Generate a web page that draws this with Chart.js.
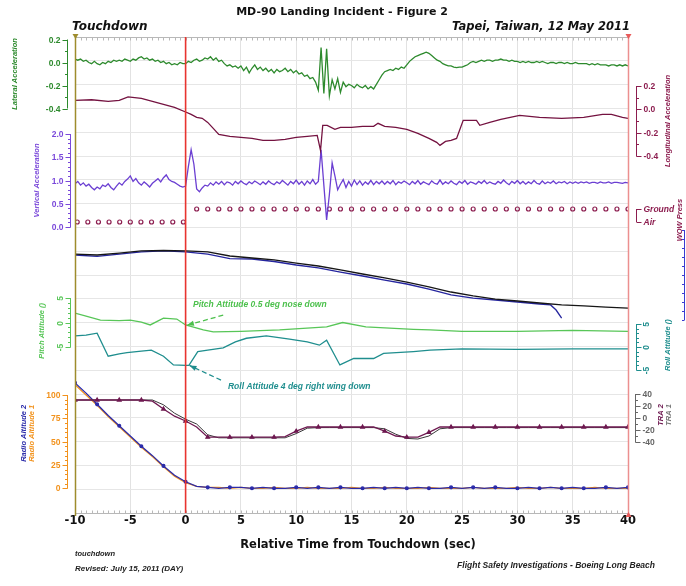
<!DOCTYPE html>
<html>
<head>
<meta charset="utf-8">
<title>MD-90 Landing Incident - Figure 2</title>
<script src="https://cdn.jsdelivr.net/npm/chart.js@4.4.0/dist/chart.umd.min.js"></script>
<style>
  html, body { margin: 0; padding: 0; background: #fff; }
  canvas { display: block; }
</style>
</head>
<body>
<canvas id="chart" width="686" height="586"></canvas>
<script>
// ---------------- recorded parameters (time in seconds from touchdown) ----------------
const touchdownTime = 0;
const xTickValues = [-10, -5, 0, 5, 10, 15, 20, 25, 30, 35, 40];

// lateral and vertical acceleration (g), sampled every 0.25 s from -10 s
const accStep = 0.25;
const lateralAccel = [
  0.03, 0.02, 0.03, 0.01,   0.02, 0.00, -0.01, 0.01,   -0.01, -0.02, 0.00, -0.01,
  0.01, 0.00, 0.02, 0.01,   0.02, 0.01, 0.03, 0.02,    0.01, 0.03, 0.02, 0.04,
  0.05, 0.03, 0.04, 0.02,   0.03, 0.01, 0.02, 0.00,    0.01, -0.01, 0.00, -0.02,
  -0.01, -0.02, 0.00, -0.01,
  -0.01, 0.01, 0.00, 0.02,  0.03, 0.01, 0.02, 0.04,    0.03, 0.05, 0.02, 0.04,
  0.01, 0.02, -0.01, -0.03, -0.02, -0.04, -0.03, -0.05, -0.03, -0.07, -0.04, -0.09,
  -0.05, -0.02, -0.06, -0.04, -0.07, -0.05, -0.08, -0.06, -0.09, -0.06, -0.08, -0.07,
  -0.05, -0.08, -0.06, -0.09, -0.07, -0.10, -0.09, -0.12, -0.11, -0.14, -0.13, -0.17,
  -0.24, 0.13, -0.27, 0.12,  -0.29, -0.15, -0.23, -0.14, -0.26, -0.17, -0.21, -0.19,
  -0.20, -0.22, -0.19, -0.21, -0.22, -0.20, -0.23, -0.21, -0.23, -0.19, -0.15, -0.11,
  -0.08, -0.07, -0.06, -0.07, -0.05, -0.06, -0.04, -0.05,
  -0.02, 0.01, 0.03, 0.05,  0.06, 0.07, 0.08, 0.09,    0.08, 0.06, 0.04, 0.02,
  0.01, -0.01, -0.02, -0.03, -0.03, -0.04, -0.045, -0.04, -0.04, -0.03, -0.02, 0.00,
  0.01, 0.00, 0.01, 0.02,   0.01, 0.02, 0.02, 0.01,    0.02, 0.02, 0.03, 0.02,
  0.02, 0.01, 0.02, 0.01,
  0.01, 0.00, 0.01, 0.00,   0.01, 0.00, 0.00, 0.01,    0.00, 0.01, 0.00, -0.01,
  0.00, 0.00, -0.01, 0.00,  0.00, -0.01, 0.00, -0.01,  -0.01, 0.00, -0.01, -0.01,
  -0.01, -0.01, -0.02, -0.01, -0.02, -0.01, -0.02, -0.02, -0.02, -0.03, -0.02, -0.02,
  -0.03, -0.02, -0.03, -0.02,
  -0.03
];
const verticalAccel = [
  0.93, 0.98, 0.90, 0.95,   0.88, 0.92, 0.85, 0.80,   0.86, 0.82, 0.90, 0.87,
  0.93, 0.85, 0.80, 0.88,   0.95, 0.90, 0.98, 1.03,   1.10, 0.98, 1.04, 0.95,
  0.90, 0.97, 0.92, 0.86,   0.94, 0.99, 1.04, 0.97,   1.06, 1.12, 1.02, 0.98,
  0.96, 0.92, 0.88, 0.86,
  0.88, 1.30, 1.66, 1.35,   0.82, 0.76, 0.84, 0.90,   0.88, 0.95, 0.90, 0.97,
  0.92, 0.98, 0.91, 0.97,   0.95, 0.90, 0.98, 0.93,   0.99, 0.94, 0.91, 0.97,
  0.93, 0.99, 0.95, 0.91,   0.97, 0.92, 0.99, 0.94,   0.91, 0.97, 0.93, 1.00,
  0.95, 0.90, 0.98, 0.93,   1.01, 0.92, 0.98, 0.90,   0.99, 0.93, 1.02, 0.92,
  0.98, 1.66, 0.90, 0.15,   0.70, 1.38, 1.10, 0.80,   0.92, 1.02, 0.85, 0.98,
  0.88, 1.01, 0.91, 0.99,   0.90, 0.97, 0.92, 1.00,   0.91, 0.98, 0.93, 0.99,
  0.92, 0.98, 0.93, 1.00,   0.91, 0.97, 0.94, 0.99,
  0.95, 0.91, 0.98, 0.93,   1.00, 0.92, 0.97, 0.94,   0.91, 0.99, 0.94, 0.92,
  1.01, 0.92, 0.97, 0.93,   0.99, 0.94, 0.91, 0.98,   0.94, 1.00, 0.92, 0.97,
  0.95, 0.92, 0.98, 0.94,   1.00, 0.93, 0.97, 0.94,   0.92, 0.98, 0.94, 1.01,
  0.95, 0.91, 0.98, 0.94,
  1.00, 0.93, 0.98, 0.92,   0.97, 0.93, 1.00, 0.94,   0.92, 0.99, 0.93, 0.97,
  0.94, 0.99, 0.93, 0.97,   0.95, 0.98, 0.93, 0.97,   0.94, 0.97, 0.94, 0.97,
  0.95, 0.97, 0.94, 0.96,   0.96, 0.94, 0.97, 0.95,   0.95, 0.97, 0.94, 0.96,
  0.96, 0.95, 0.94, 0.96,
  0.95
];
const accTime = lateralAccel.map((_, i) => -10 + i * accStep);

// longitudinal acceleration (g)
const longTime = [-10, -8.5, -7, -6, -5.2, -4, -3, -2, -1, 0,
  0.5, 1, 1.5, 2, 2.5, 3, 4, 5, 6, 7,
  8, 9, 10, 11, 11.9, 12.2, 12.4, 12.8, 13.5, 14,
  15, 16, 17, 17.4, 18, 19, 20, 21, 22, 22.7,
  23, 23.5, 24, 24.5, 25.1, 26.3, 26.6, 27.5, 28.5, 30.2,
  32, 34, 36, 37.7, 38.5, 39.5, 40];
const longAccel = [0.077, 0.082, 0.069, 0.077, 0.106, 0.094, 0.069, 0.043, 0.017, -0.023,
  -0.043, -0.069, -0.077, -0.112, -0.163, -0.215, -0.232, -0.240, -0.249, -0.266,
  -0.266, -0.258, -0.240, -0.232, -0.223, -0.352, -0.137, -0.137, -0.172, -0.155,
  -0.155, -0.146, -0.146, -0.120, -0.146, -0.155, -0.172, -0.206, -0.249, -0.283,
  -0.309, -0.275, -0.266, -0.249, -0.094, -0.094, -0.137, -0.112, -0.086, -0.052,
  -0.069, -0.077, -0.069, -0.043, -0.043, -0.069, -0.077];

// weight-on-wheels discrete (0 = Air, 1 = Ground)
const wowTime = [-9.8, -8.84, -7.88, -6.92, -5.96, -5.0, -4.04, -3.08, -2.12, -1.16, -0.2,
  1, 2, 3, 4, 5, 6, 7, 8, 9, 10, 11, 12, 13, 14, 15, 16, 17, 18, 19, 20,
  21, 22, 23, 24, 25, 26, 27, 28, 29, 30, 31, 32, 33, 34, 35, 36, 37, 38, 39, 40];
const wowState = [0, 0, 0, 0, 0, 0, 0, 0, 0, 0, 0,
  1, 1, 1, 1, 1, 1, 1, 1, 1, 1, 1, 1, 1, 1, 1, 1, 1, 1, 1, 1,
  1, 1, 1, 1, 1, 1, 1, 1, 1, 1, 1, 1, 1, 1, 1, 1, 1, 1, 1, 1];
const wowLabels = ['Ground', 'Air'];

// heading traces (deg)
const headingTime1 = [-10, -8, -6, -4, -2, 0, 2, 4, 6, 8, 10, 12, 14, 16, 18, 20, 22, 24, 26, 28, 30, 32, 34, 36, 38, 40];
const heading1 = [57.33, 57.22, 57.44, 57.67, 57.72, 57.67, 57.56, 57.11, 56.89, 56.67, 56.33, 56.0, 55.56,
  55.11, 54.67, 54.22, 53.67, 53.11, 52.67, 52.33, 52.11, 51.89, 51.67, 51.56, 51.44, 51.33];
const headingTime2 = [-10, -8, -6, -4, -2, 0, 2, 4, 6, 8, 10, 12, 14, 16, 18, 20, 22, 24, 26, 28, 30, 32, 33, 33.5, 34];
const heading2 = [57.22, 57.06, 57.33, 57.56, 57.67, 57.56, 57.33, 56.83, 56.78, 56.5, 56.11, 55.78, 55.33,
  54.89, 54.44, 54.0, 53.44, 52.78, 52.44, 52.22, 52.0, 51.78, 51.67, 51.11, 50.22];

// pitch and roll attitude (deg)
const pitchTime = [-10, -9, -7.7, -6, -5, -4, -3.2, -2, -0.8, 0, 1.6, 2.5, 5, 8.5, 12.75, 14.2, 16.3, 20.6, 22.1, 25, 30, 35, 40];
const pitchAttitude = [1.9, 1.3, 0.5, 0.4, 0.5, 0.1, -0.5, 0.9, 0.7, -0.5, -1.5, -1.9, -1.8, -1.5, -0.9, 0.0, -0.9, -1.4, -1.5, -1.8, -1.8, -1.6, -1.8];
const rollTime = [-10, -9, -8, -7, -6, -5.3, -4, -3.1, -2, -1.1, 0, 0.3, 1.1, 2, 3.4, 4.5, 5.5, 7.3, 9.4, 11,
  12.1, 12.75, 13.95, 15.2, 17, 17.9, 20.6, 22.1, 25, 30, 35, 40];
const rollAttitude = [2.4, 2.6, 3.0, -2.0, -1.5, -1.2, -0.9, -0.7, -2.0, -3.9, -4.0, -4.0, -1.0, -0.7, -0.2, 1.1, 1.9, 2.4, 1.7, 1.1,
  0.4, 1.5, -3.9, -2.5, -2.5, -1.4, -1.0, -0.7, -0.4, -0.5, -0.4, -0.4];

// throttle resolver angle (deg) and radio altitude (ft), one sample per second
const sampleTime = [-10, -9, -8, -7, -6, -5, -4, -3, -2, -1, 0, 1, 2, 3, 4, 5, 6, 7, 8, 9, 10,
  11, 12, 13, 14, 15, 16, 17, 18, 19, 20, 21, 22, 23, 24, 25, 26, 27, 28, 29, 30,
  31, 32, 33, 34, 35, 36, 37, 38, 39, 40];
const tra2 = [30, 30, 30, 30, 30, 30, 30, 28, 15, 3, -5, -15, -32, -32, -32, -32, -32, -32, -32, -31, -22,
  -15, -15, -15, -15, -15, -15, -15, -22, -30, -32, -32, -24, -15, -15, -15, -15, -15, -15, -15, -15,
  -15, -15, -15, -15, -15, -15, -15, -15, -15, -15];
const tra1 = [30, 30, 30, 30, 30, 30, 30, 30, 22, 8, -2, -10, -28, -33, -33, -33, -33, -33, -33, -33, -26,
  -17, -16, -16, -16, -16, -16, -16, -18, -27, -34, -35, -30, -18, -16, -16, -16, -16, -16, -16, -16,
  -16, -16, -16, -16, -16, -16, -16, -16, -16, -16];
const radioAlt1 = [111, 100, 89, 77, 66, 55, 44, 34, 23, 13, 6, 2, 1, 1, 0, 1, 0, 0, 1, 0, 0,
  1, 0, 0, 0, 1, 0, 0, 1, 0, 0, 0, 1, 0, 0, 0, 1, 0, 0, 0, 1,
  0, 0, 1, 0, 0, 0, 1, 0, 0, 0];
const radioAlt2 = [113, 102, 90, 78, 67, 56, 45, 35, 24, 14, 7, 2, 1, 0, 1, 1, 0, 1, 0, 0, 1,
  0, 1, 0, 1, 0, 0, 1, 0, 1, 0, 1, 0, 0, 1, 0, 1, 0, 1, 0, 0,
  1, 0, 1, 0, 1, 0, 0, 1, 0, 1];

// axis tick values and their labels
const latTicks = [0.2, 0, -0.2, -0.4],        latTickLabels = ['0.2', '0.0', '-0.2', '-0.4'];
const longTicks = [0.2, 0, -0.2, -0.4],       longTickLabels = ['0.2', '0.0', '-0.2', '-0.4'];
const vertTicks = [2, 1.5, 1, 0.5, 0],         vertTickLabels = ['2.0', '1.5', '1.0', '0.5', '0.0'];
const attTicks = [5, 0, -5],                   attTickLabels = ['5', '0', '-5'];
const traTicks = [40, 20, 0, -20, -40],        traTickLabels = ['40', '20', '0', '-20', '-40'];
const raTicks = [100, 75, 50, 25, 0],          raTickLabels = ['100', '75', '50', '25', '0'];

// ---------------- layout ----------------
const PLOT = { left: 75, right: 628, top: 37, bottom: 513 };
// value range of a hidden y scale so that v1 sits at pixel p1 and v2 at pixel p2
function band(v1, p1, v2, p2) {
  const k = (v1 - v2) / (p2 - p1);
  return { min: v2 - (PLOT.bottom - p2) * k, max: v1 + (p1 - PLOT.top) * k };
}
const bands = {
  lat: band(0.2, 39.5, -0.4, 108.5),
  long: band(0.2, 86, -0.4, 156),
  vert: band(2, 134, 0, 227),
  wow: band(1, 209, 0, 222),
  hdg: band(60, 230, 50, 320),
  pitch: band(5, 298, -5, 347),
  roll: band(5, 324, -5, 370),
  tra: band(40, 394, -40, 442),
  ra: band(100, 395, 0, 488.3)
};

const C = {
  lat: '#2d8a2d', long: '#741240', vert: '#6b3fd2', wow: '#8c1d4f',
  hdg1: '#161616', hdg2: '#25259e', pitch: '#58c658', roll: '#1f8e8e',
  tra2: '#6e1850', tra1: '#3a3a3a', ra1: '#f2921c', ra2: '#2b2baa'
};

const pts = (xs, ys) => xs.map((x, i) => ({ x, y: ys[i] }));
const line = (label, xs, ys, axis, color, extra) => Object.assign({
  label, data: pts(xs, ys), yAxisID: axis, borderColor: color, backgroundColor: color,
  borderWidth: 1.3, pointRadius: 0, tension: 0, fill: false
}, extra || {});

const datasets = [
  line('Lateral Acceleration', accTime, lateralAccel, 'lat', C.lat),
  line('Longitudinal Acceleration', longTime, longAccel, 'long', C.long),
  line('Vertical Acceleration', accTime, verticalAccel, 'vert', C.vert),
  line('WOW', wowTime, wowState, 'wow', C.wow, {
    showLine: false, pointRadius: 2, pointStyle: 'circle', pointBorderWidth: 1.2,
    pointBorderColor: C.wow, pointBackgroundColor: 'rgba(0,0,0,0)'
  }),
  line('Heading 1', headingTime1, heading1, 'hdg', C.hdg1),
  line('Heading 2', headingTime2, heading2, 'hdg', C.hdg2),
  line('Pitch Attitude', pitchTime, pitchAttitude, 'pitch', C.pitch),
  line('Roll Attitude', rollTime, rollAttitude, 'roll', C.roll),
  line('TRA 2', sampleTime, tra2, 'tra', C.tra2, {
    pointStyle: 'triangle', pointRadius: c => (c.dataIndex % 2 ? 0 : 2)
  }),
  line('TRA 1', sampleTime, tra1, 'tra', C.tra1, { borderWidth: 1 }),
  line('Radio Altitude 2', sampleTime, radioAlt2, 'ra', C.ra2, {
    pointRadius: c => (c.dataIndex % 2 ? 0 : 1.4)
  }),
  line('Radio Altitude 1', sampleTime, radioAlt1, 'ra', C.ra1)
];

// ---------------- side axes, drawn from the hidden scales ----------------
const axisDecor = [
  { id: 'lat', side: 'left', x: 67, color: C.lat, from: 0.2, to: -0.4, major: latTicks, labels: latTickLabels, minor: 0.1,
    titles: [{ text: 'Lateral Acceleration', x: 15, color: C.lat }], titleAt: -0.1 },
  { id: 'vert', side: 'left', x: 70, color: '#7a48da', from: 2, to: 0, major: vertTicks, labels: vertTickLabels, minor: 0.1,
    titles: [{ text: 'Vertical Acceleration', x: 37, color: '#7a48da' }], titleAt: 1.0 },
  { id: 'pitch', side: 'left', x: 70, color: C.pitch, from: 5, to: -5, major: attTicks, labels: attTickLabels, minor: 1, rotate: true,
    titles: [{ text: 'Pitch Attitude ()', x: 42, color: C.pitch }], titleAt: -1.7 },
  { id: 'ra', side: 'left', x: 67, color: C.ra1, from: 100, to: 0, major: raTicks, labels: raTickLabels, minor: 5,
    titles: [{ text: 'Radio Altitude 2', x: 24, color: C.ra2 }, { text: 'Radio Altitude 1', x: 32, color: C.ra1 }], titleAt: 59 },
  { id: 'long', side: 'right', x: 636, color: '#8c1d4f', from: 0.2, to: -0.4, major: longTicks, labels: longTickLabels, minor: 0.1,
    titles: [{ text: 'Longitudinal Acceleration', x: 668, color: '#8c1d4f' }], titleAt: -0.1 },
  { id: 'wow', side: 'right', x: 636, color: C.wow, from: 1, to: 0, major: [1, 0], labels: wowLabels, italic: true,
    titles: [{ text: 'WOW Press', x: 680, color: C.wow }], titleAt: 0.15 },
  { id: 'hdg', side: 'left', x: 684, color: '#3a3ad0', from: 60, to: 50, major: [], labels: [], minor: 1 },
  { id: 'roll', side: 'right', x: 636, color: C.roll, from: 5, to: -5, major: attTicks, labels: attTickLabels, minor: 1, rotate: true,
    titles: [{ text: 'Roll Attitude ()', x: 668, color: C.roll }], titleAt: 0.4 },
  { id: 'tra', side: 'right', x: 635, color: '#666', from: 40, to: -40, major: traTicks, labels: traTickLabels, minor: 10,
    titles: [{ text: 'TRA 2', x: 661, color: C.tra2 }, { text: 'TRA 1', x: 669, color: '#777' }], titleAt: 5 }
];

const notes = [
  { axis: 'pitch', text: 'Pitch Attitude 0.5 deg nose down', color: '#4cc04c', at: [0.67, 3.57], from: [3.4, 1.5], to: [0.12, -0.56] },
  { axis: 'roll', text: 'Roll Attitude 4 deg right wing down', color: '#1f8e8e', at: [3.83, -8.7], from: [3.2, -7.2], to: [0.35, -4.0] }
];

const SMALL = '"Liberation Sans", Arial, sans-serif';
const WIDE = '"DejaVu Sans", Verdana, sans-serif';

function text(ctx, s, x, y, font, color, align, rot) {
  ctx.save();
  ctx.font = font; ctx.fillStyle = color;
  ctx.textAlign = align || 'left'; ctx.textBaseline = 'middle';
  ctx.translate(x, y);
  if (rot) ctx.rotate(rot);
  ctx.fillText(s, 0, 0);
  ctx.restore();
}

function drawSideAxis(chart, a) {
  const ctx = chart.ctx;
  const s = chart.scales[a.id];
  const py = v => s.getPixelForValue(v);
  const dir = a.side === 'left' ? -1 : 1;
  ctx.save();
  ctx.strokeStyle = a.color; ctx.lineWidth = 1;
  const x = a.x + 0.5;
  ctx.beginPath(); ctx.moveTo(x, py(a.from)); ctx.lineTo(x, py(a.to)); ctx.stroke();
  if (a.minor) {
    const n = Math.round((a.from - a.to) / a.minor);
    for (let i = 0; i <= n; i++) {
      const y = Math.round(py(a.to + i * a.minor)) + 0.5;
      ctx.beginPath(); ctx.moveTo(x, y); ctx.lineTo(x + dir * 2.5, y); ctx.stroke();
    }
  }
  a.major.forEach((v, i) => {
    const y = Math.round(py(v)) + 0.5;
    ctx.beginPath(); ctx.moveTo(x, y); ctx.lineTo(x + dir * 5, y); ctx.stroke();
    const lab = a.labels[i];
    if (!lab) return;
    const font = (a.italic ? 'italic ' : '') + 'bold 8.5px ' + SMALL;
    if (a.rotate) {
      text(ctx, lab, x + dir * 10, y, font, a.color, 'center', -Math.PI / 2);
    } else {
      text(ctx, lab, x + dir * 7, y, font, a.color, a.side === 'left' ? 'right' : 'left');
    }
  });
  (a.titles || []).forEach(t => {
    text(ctx, t.text, t.x, py(a.titleAt), 'italic bold 7.5px ' + SMALL, t.color, 'center', -Math.PI / 2);
  });
  ctx.restore();
}

function drawNote(chart, n) {
  const ctx = chart.ctx;
  const xs = chart.scales.x, ys = chart.scales[n.axis];
  const P = p => [xs.getPixelForValue(p[0]), ys.getPixelForValue(p[1])];
  const [tx, ty] = P(n.at), [x1, y1] = P(n.from), [x2, y2] = P(n.to);
  text(ctx, n.text, tx, ty, 'italic bold 8.5px ' + SMALL, n.color, 'left');
  ctx.save();
  ctx.strokeStyle = n.color; ctx.fillStyle = n.color; ctx.lineWidth = 1.3;
  ctx.setLineDash([5, 3]);
  ctx.beginPath(); ctx.moveTo(x1, y1); ctx.lineTo(x2, y2); ctx.stroke();
  ctx.setLineDash([]);
  const ang = Math.atan2(y2 - y1, x2 - x1), L = 7, W = 2.6;
  ctx.beginPath();
  ctx.moveTo(x2, y2);
  ctx.lineTo(x2 - L * Math.cos(ang) + W * Math.sin(ang), y2 - L * Math.sin(ang) - W * Math.cos(ang));
  ctx.lineTo(x2 - L * Math.cos(ang) - W * Math.sin(ang), y2 - L * Math.sin(ang) + W * Math.cos(ang));
  ctx.closePath(); ctx.fill();
  ctx.restore();
}

function tri(ctx, x, y, color, up) {
  ctx.save(); ctx.fillStyle = color;
  ctx.beginPath();
  const d = up ? -1 : 1;
  ctx.moveTo(x - 3, y - d * 3); ctx.lineTo(x + 3, y - d * 3); ctx.lineTo(x, y + d * 2); ctx.closePath();
  ctx.fill(); ctx.restore();
}

const framePlugin = {
  id: 'frame',
  beforeDraw(chart) {
    const { ctx, width, height } = chart;
    ctx.save(); ctx.fillStyle = '#fff'; ctx.fillRect(0, 0, width, height); ctx.restore();
  },
  afterDatasetsDraw(chart) {
    const { ctx, chartArea: ca, scales } = chart;
    const xs = scales.x;
    ctx.save();
    // rulers along top and bottom edges
    ctx.strokeStyle = '#b8b8b8'; ctx.lineWidth = 1;
    [[ca.top, 1], [ca.bottom, -1]].forEach(([y, d]) => {
      ctx.beginPath(); ctx.moveTo(ca.left, y + 0.5); ctx.lineTo(ca.right, y + 0.5); ctx.stroke();
      for (let i = 0; i <= 100; i++) {
        const px = Math.round(xs.getPixelForValue(-10 + i * 0.5)) + 0.5;
        ctx.beginPath(); ctx.moveTo(px, y + 0.5); ctx.lineTo(px, y + 0.5 + d * 3); ctx.stroke();
      }
    });
    // side borders
    ctx.lineWidth = 1.5;
    ctx.strokeStyle = '#9e8c2c';
    ctx.beginPath(); ctx.moveTo(ca.left + 0.5, ca.top); ctx.lineTo(ca.left + 0.5, ca.bottom + 3); ctx.stroke();
    ctx.strokeStyle = '#ec8f8f';
    ctx.beginPath(); ctx.moveTo(ca.right + 0.5, ca.top); ctx.lineTo(ca.right + 0.5, ca.bottom + 3); ctx.stroke();
    // touchdown marker line
    const tx = xs.getPixelForValue(touchdownTime);
    ctx.strokeStyle = '#e8342f'; ctx.lineWidth = 1.6;
    ctx.beginPath(); ctx.moveTo(tx, ca.top); ctx.lineTo(tx, ca.bottom); ctx.stroke();
    ctx.restore();
    tri(ctx, ca.left + 0.5, ca.top, '#9e8c2c', false);
    tri(ctx, ca.right + 0.5, ca.top, '#e85a5a', false);
    tri(ctx, ca.right + 0.5, ca.bottom + 1, '#e85a5a', true);
  },
  afterDraw(chart) {
    const ctx = chart.ctx;
    axisDecor.forEach(a => drawSideAxis(chart, a));
    notes.forEach(n => drawNote(chart, n));
    text(ctx, 'MD-90 Landing Incident - Figure 2', 342, 12, 'bold 11px ' + WIDE, '#111', 'center');
    text(ctx, 'Touchdown', 72, 27, 'italic bold 12px ' + WIDE, '#111', 'left');
    text(ctx, 'Tapei, Taiwan, 12 May 2011', 630, 27, 'italic bold 11.5px ' + WIDE, '#111', 'right');
    text(ctx, 'Relative Time from Touchdown (sec)', 358, 545, 'bold 11.5px ' + WIDE, '#111', 'center');
    text(ctx, 'touchdown', 75, 554, 'italic bold 7.5px ' + SMALL, '#222', 'left');
    text(ctx, 'Revised: July 15, 2011 (DAY)', 75, 569, 'italic bold 8px ' + SMALL, '#222', 'left');
    text(ctx, 'Flight Safety Investigations - Boeing Long Beach', 655, 566, 'italic bold 8.5px ' + SMALL, '#222', 'right');
  }
};

// every side parameter gets its own invisible vertical scale
const hidden = id => Object.assign({ type: 'linear', axis: 'y', position: 'left', display: false }, bands[id]);

new Chart(document.getElementById('chart'), {
  type: 'line',
  data: { datasets },
  options: {
    responsive: false,
    animation: false,
    devicePixelRatio: 1,
    events: [],
    layout: { padding: { left: PLOT.left, right: 686 - PLOT.right, top: PLOT.top, bottom: 33 } },
    plugins: { legend: { display: false }, tooltip: { enabled: false }, title: { display: false } },
    scales: {
      x: {
        type: 'linear', position: 'bottom', min: -10, max: 40,
        afterBuildTicks: s => { s.ticks = xTickValues.map(v => ({ value: v })); },
        afterFit: s => { s.height = 40; },
        grid: { color: '#e2e2e2', drawTicks: false, lineWidth: 1 },
        border: { display: false },
        ticks: { padding: 1, color: '#111', font: { family: WIDE, size: 11.5, weight: 'bold' }, maxRotation: 0, autoSkip: false }
      },
      grid: {
        type: 'linear', axis: 'y', position: 'left', min: 0, max: 20,
        ticks: { display: false, stepSize: 1 },
        afterFit: s => { s.width = 0; },
        grid: { color: '#e6e6e6', drawTicks: false },
        border: { display: false }
      },
      lat: hidden('lat'), long: hidden('long'), vert: hidden('vert'), wow: hidden('wow'),
      hdg: hidden('hdg'), pitch: hidden('pitch'), roll: hidden('roll'), tra: hidden('tra'), ra: hidden('ra')
    }
  },
  plugins: [framePlugin]
});
</script>
</body>
</html>
